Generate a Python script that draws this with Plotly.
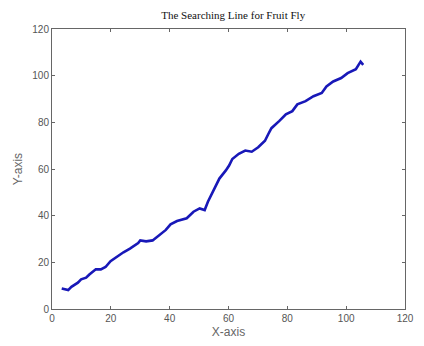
import plotly.graph_objects as go

x_vals = [3.3, 5.5, 6.6, 8.8, 9.9, 11.6, 12.7, 14.9, 16.6, 18.2, 19.9, 22.1, 24.3, 26.5,
          29.3, 30.0, 32.0, 34.2, 36.5, 38.7, 40.3, 42.5, 45.8, 48.1, 50.2, 51.9, 53.0,
          54.7, 55.6, 56.9, 59.1, 60.2, 61.3, 63.5, 65.7, 67.9, 70.1, 72.4, 73.5, 74.6,
          77.3, 79.5, 81.7, 83.4, 86.2, 88.9, 91.7, 93.3, 95.6, 98.3, 100.5, 103.3, 104.9, 105.8]
y_vals = [8.8, 8.1, 9.5, 11.3, 12.7, 13.4, 14.8, 17.0, 17.0, 18.0, 20.5, 22.6, 24.3, 25.9,
          28.3, 29.4, 29.0, 29.4, 31.6, 33.9, 36.3, 37.7, 38.9, 41.7, 43.1, 42.4, 46.0,
          50.2, 52.3, 55.9, 59.4, 61.5, 64.3, 66.5, 67.9, 67.4, 69.3, 72.1, 74.9, 77.5,
          80.6, 83.4, 84.8, 87.7, 89.1, 91.2, 92.6, 95.4, 97.5, 99.0, 101.1, 102.8, 106.0, 104.6]
tick_vals = [0, 20, 40, 60, 80, 100, 120]

fig = go.Figure()
fig.add_trace(go.Scatter(x=x_vals, y=y_vals, mode="lines",
                         line=dict(color="#1818b8", width=2.6), showlegend=False))

axis_common = dict(range=[0, 120], tickvals=tick_vals, ticks="inside", ticklen=3,
                   tickcolor="#666", showline=True, linecolor="#666", linewidth=1,
                   mirror="ticks", showgrid=False, zeroline=False,
                   tickfont=dict(family="Liberation Sans Narrow, Arial", size=10, color="#555"))

fig.update_layout(
    width=424, height=346,
    margin=dict(l=52, r=10, t=29, b=34),
    paper_bgcolor="white", plot_bgcolor="white",
    title=dict(text="The Searching Line for Fruit Fly", x=0.55, xanchor="center",
               y=1 - 15 / 346, yanchor="middle",
               font=dict(family="Liberation Serif, Times New Roman", size=11, color="#111")),
    xaxis=dict(**axis_common, title=dict(text="X-axis", standoff=4,
               font=dict(family="Liberation Sans, Arial", size=12, color="#666"))),
    yaxis=dict(**axis_common, title=dict(text="Y-axis", standoff=7,
               font=dict(family="Liberation Sans, Arial", size=12, color="#666"))),
)

fig.write_html("out.html")
